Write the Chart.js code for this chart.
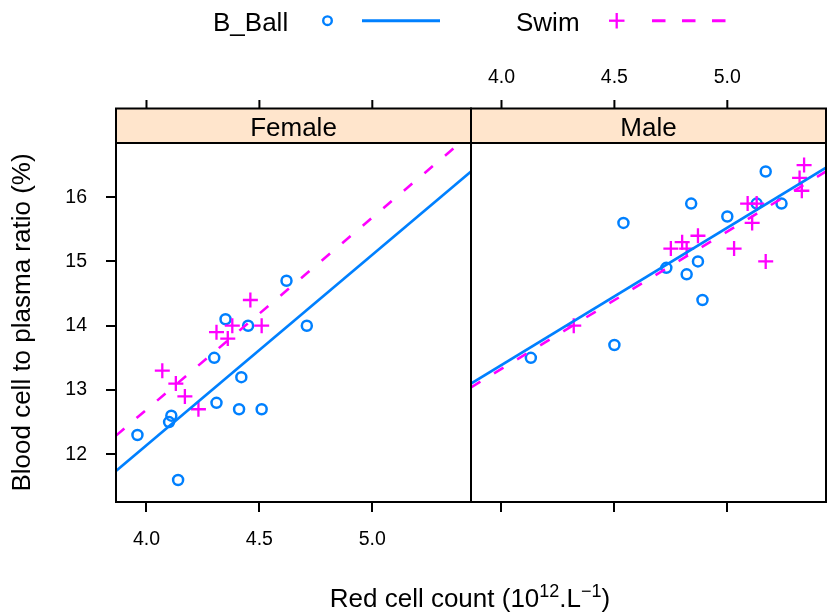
<!DOCTYPE html>
<html>
<head>
<meta charset="utf-8">
<script src="https://cdn.jsdelivr.net/npm/chart.js@4.4.1/dist/chart.umd.min.js"></script>
<style>
  body { margin: 0; background: #fff; }
  #wrap { position: relative; width: 827px; height: 613px; overflow: hidden; font-family: "Liberation Sans", Arial, sans-serif; }
  #female { position: absolute; left: 0; top: 0; }
  #male { position: absolute; left: 470px; top: 0; }
  #legend, #xtitle { position: absolute; left: 0; }
  #legend { top: 0; }
  #xtitle { top: 560px; }
</style>
</head>
<body>
<div id="wrap">
  <canvas id="female" width="472" height="613"></canvas>
  <canvas id="male" width="357" height="613"></canvas>
  <svg id="legend" width="827" height="45" font-family="Liberation Sans, Arial, sans-serif">
    <text x="213" y="30.5" font-size="26">B_Ball</text>
    <circle cx="327.5" cy="20.7" r="4.3" fill="none" stroke="#0080ff" stroke-width="2.4"/>
    <line x1="362" y1="20.7" x2="440" y2="20.7" stroke="#0080ff" stroke-width="3"/>
    <text x="516" y="30.5" font-size="26">Swim</text>
    <line x1="609" y1="20.7" x2="624.5" y2="20.7" stroke="#ff00ff" stroke-width="2.3"/>
    <line x1="616.7" y1="13" x2="616.7" y2="28.5" stroke="#ff00ff" stroke-width="2.3"/>
    <line x1="652" y1="20.7" x2="729" y2="20.7" stroke="#ff00ff" stroke-width="3" stroke-dasharray="13.5 16.5"/>
  </svg>
  <svg id="xtitle" width="827" height="53" font-family="Liberation Sans, Arial, sans-serif">
    <text x="470" y="47" font-size="26" text-anchor="middle">Red cell count (10<tspan dy="-10" font-size="18">12</tspan><tspan dy="10">.L</tspan><tspan dy="-10" font-size="18">−1</tspan><tspan dy="10">)</tspan></text>
  </svg>
</div>
<script>
// red cell count vs blood cell / plasma ratio, by sex and sport
const xTicks = [4.0, 4.5, 5.0];
const yTicks = [12, 13, 14, 15, 16];
const xLimits = [3.865, 5.437];
const yLimits = [11.257, 16.843];

const femaleBBallX = [3.96, 4.10, 4.11, 4.14, 4.30, 4.31, 4.35, 4.41, 4.42, 4.45, 4.51, 4.62, 4.71];
const femaleBBallY = [12.3, 12.5, 12.6, 11.6, 13.5, 12.8, 14.1, 12.7, 13.2, 14.0, 12.7, 14.7, 14.0];
const femaleSwimX = [4.07, 4.13, 4.17, 4.23, 4.31, 4.36, 4.38, 4.46, 4.51];
const femaleSwimY = [13.3, 13.1, 12.9, 12.7, 13.9, 13.8, 14.0, 14.4, 14.0];

const maleBBallX = [4.13, 4.50, 4.54, 4.73, 4.82, 4.84, 4.87, 4.89, 5.00, 5.13, 5.17, 5.24];
const maleBBallY = [13.5, 13.7, 15.6, 14.9, 14.8, 15.9, 15.0, 14.4, 15.7, 15.9, 16.4, 15.9];
const maleSwimX = [4.32, 4.75, 4.80, 4.82, 4.87, 5.03, 5.09, 5.11, 5.13, 5.17, 5.32, 5.33, 5.34];
const maleSwimY = [14.0, 15.2, 15.3, 15.2, 15.4, 15.2, 15.9, 15.6, 15.9, 15.0, 16.3, 16.1, 16.5];

// fitted lines: y at the left and right x limits
const femaleBBallFit = [11.74, 16.40];
const femaleSwimFit = [12.29, 16.99];
const maleBBallFit = [13.10, 16.46];
const maleSwimFit = [13.04, 16.40];

const BLUE = '#0080ff';
const PINK = '#ff00ff';
const FONT = '"Liberation Sans", Arial, sans-serif';
Chart.defaults.font.family = FONT;
Chart.defaults.color = '#000';

const STRIP_TOP = 108.5;

function pts(xs, ys) {
    return xs.map((x, i) => ({ x: x, y: ys[i] }));
}

function fitLine(fit) {
    return [{ x: xLimits[0], y: fit[0] }, { x: xLimits[1], y: fit[1] }];
}

// strip label, panel box and the ticks above the strip
const panelDecor = {
    id: 'panelDecor',
    afterDraw(chart, args, opts) {
        const { ctx, chartArea: a } = chart;
        const x = chart.scales.x;
        ctx.save();
        ctx.lineWidth = 2;
        ctx.strokeStyle = '#000';
        ctx.fillStyle = '#ffe5cc';
        ctx.fillRect(a.left, STRIP_TOP, a.right - a.left, a.top - STRIP_TOP);
        ctx.strokeRect(a.left, STRIP_TOP, a.right - a.left, a.top - STRIP_TOP);
        ctx.strokeRect(a.left, a.top, a.right - a.left, a.bottom - a.top);

        ctx.fillStyle = '#000';
        ctx.textAlign = 'center';
        ctx.textBaseline = 'alphabetic';
        ctx.font = '26px ' + FONT;
        ctx.fillText(opts.title, (a.left + a.right) / 2, 135.5);

        ctx.font = '19.5px ' + FONT;
        xTicks.forEach(v => {
            const px = x.getPixelForValue(v);
            ctx.beginPath();
            ctx.moveTo(px, STRIP_TOP - 8.5);
            ctx.lineTo(px, STRIP_TOP);
            ctx.stroke();
            if (opts.topLabels) {
                ctx.fillText(v.toFixed(1), px, 82.7);
            }
        });
        ctx.restore();
    }
};

function makeDatasets(bx, by, sx, sy, bFit, sFit) {
    return [
        {
            type: 'line', label: 'B_Ball fit', data: fitLine(bFit),
            borderColor: BLUE, borderWidth: 2.6, pointRadius: 0, order: 0
        },
        {
            type: 'scatter', label: 'Swim', data: pts(sx, sy),
            pointStyle: 'cross', pointRadius: 7.5, borderWidth: 2.3,
            borderColor: PINK, backgroundColor: PINK, order: 1
        },
        {
            type: 'line', label: 'Swim fit', data: fitLine(sFit),
            borderColor: PINK, borderWidth: 2.6, borderDash: [11, 16], pointRadius: 0, order: 2
        },
        {
            type: 'scatter', label: 'B_Ball', data: pts(bx, by),
            pointStyle: 'circle', pointRadius: 5, borderWidth: 2.5,
            borderColor: BLUE, backgroundColor: 'rgba(0,0,0,0)', order: 3
        }
    ];
}

function makeOptions(panel) {
    const isFemale = panel === 'Female';
    return {
        responsive: false,
        animation: false,
        events: [],
        layout: {
            autoPadding: false,
            padding: { left: isFemale ? 0 : 1, right: 1, top: 143, bottom: 0 }
        },
        scales: {
            x: {
                type: 'linear', position: 'bottom',
                min: xLimits[0], max: xLimits[1],
                afterBuildTicks: s => { s.ticks = xTicks.map(v => ({ value: v })); },
                afterFit: s => { s.height = 111; },
                grid: { drawOnChartArea: false, drawTicks: true, tickLength: 10, color: '#000', lineWidth: 2 },
                border: { display: false },
                ticks: {
                    display: isFemale, padding: 16,
                    font: { size: 19.5 },
                    callback: v => v.toFixed(1),
                    maxRotation: 0
                }
            },
            y: {
                type: 'linear', display: isFemale,
                min: yLimits[0], max: yLimits[1],
                afterBuildTicks: s => { s.ticks = yTicks.map(v => ({ value: v })); },
                afterFit: s => { s.width = isFemale ? 116 : 0; },
                grid: { drawOnChartArea: false, drawTicks: true, tickLength: 10, color: '#000', lineWidth: 2 },
                border: { display: false },
                ticks: { padding: 19, font: { size: 19.5 }, callback: v => String(v) },
                title: {
                    display: isFemale,
                    text: 'Blood cell to plasma ratio (%)',
                    font: { size: 26 },
                    padding: { top: 7, bottom: 0 }
                }
            }
        },
        plugins: {
            legend: { display: false },
            tooltip: { enabled: false },
            panelDecor: { title: panel, topLabels: !isFemale }
        }
    };
}

new Chart(document.getElementById('female').getContext('2d'), {
    type: 'scatter',
    data: { datasets: makeDatasets(femaleBBallX, femaleBBallY, femaleSwimX, femaleSwimY, femaleBBallFit, femaleSwimFit) },
    options: makeOptions('Female'),
    plugins: [panelDecor]
});

new Chart(document.getElementById('male').getContext('2d'), {
    type: 'scatter',
    data: { datasets: makeDatasets(maleBBallX, maleBBallY, maleSwimX, maleSwimY, maleBBallFit, maleSwimFit) },
    options: makeOptions('Male'),
    plugins: [panelDecor]
});
</script>
</body>
</html>
